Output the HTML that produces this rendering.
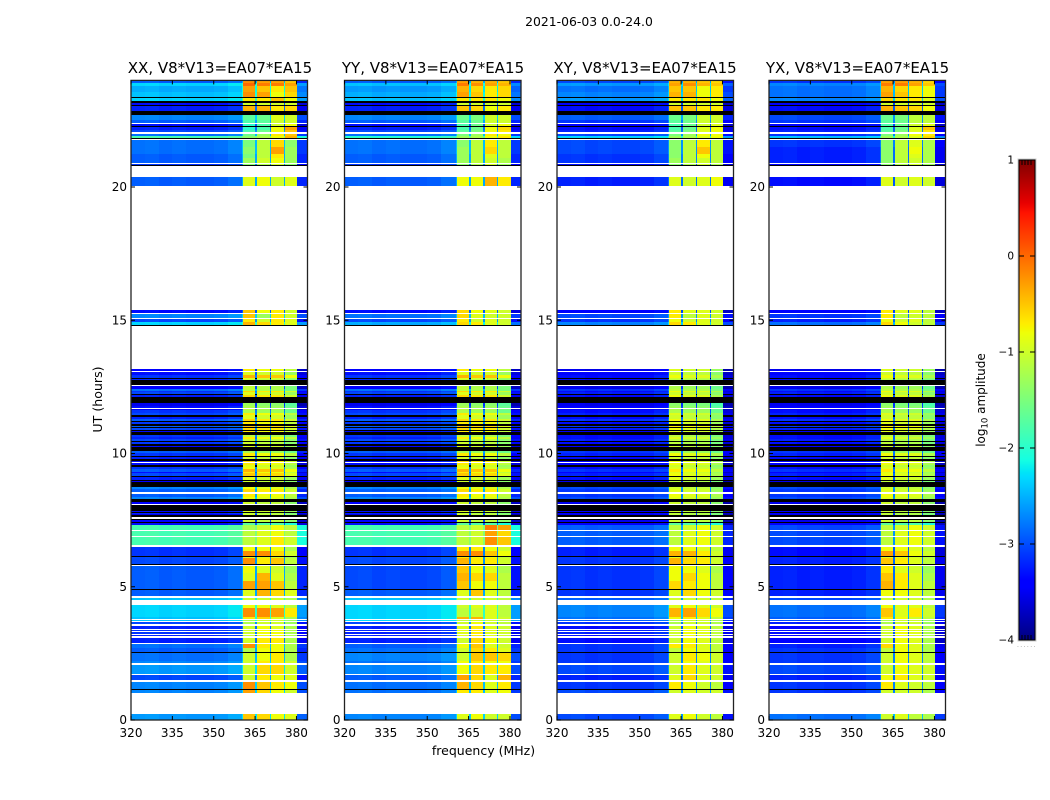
<!DOCTYPE html>
<html>
<head>
<meta charset="utf-8">
<title>2021-06-03 0.0-24.0</title>
<style>
html,body{margin:0;padding:0;background:#fff;}
svg{display:block;}
text{font-family:"DejaVu Sans","Liberation Sans",sans-serif;fill:#000;}
</style>
</head>
<body>
<svg id="figure" xmlns="http://www.w3.org/2000/svg" width="1050" height="800" viewBox="0 0 1050 800">
  <rect x="0" y="0" width="1050" height="800" fill="#fff"/>
  <text x="589" y="26" font-size="12.4" text-anchor="middle">2021-06-03 0.0-24.0</text>
  <text x="220" y="73" font-size="15" text-anchor="middle">XX, V8*V13=EA07*EA15</text>
  <text x="433" y="73" font-size="15" text-anchor="middle">YY, V8*V13=EA07*EA15</text>
  <text x="645" y="73" font-size="15" text-anchor="middle">XY, V8*V13=EA07*EA15</text>
  <text x="857.5" y="73" font-size="15" text-anchor="middle">YX, V8*V13=EA07*EA15</text>
  <text x="102" y="399.5" font-size="12.6" text-anchor="middle" transform="rotate(-90 102 399.5)">UT (hours)</text>
  <text x="483.5" y="755" font-size="12.5" text-anchor="middle">frequency (MHz)</text>
  <text x="985" y="400" font-size="12" text-anchor="middle" transform="rotate(-90 985 400)">log<tspan font-size="8.5" dy="2.5">10</tspan><tspan dy="-2.5"> amplitude</tspan></text>
  <text x="1017" y="647" font-size="6" letter-spacing="1.4" style="fill:#888">......</text>
  <g id="panels"></g>
  <g id="colorbar"></g>
</svg>
<script>
// ---- chart data: tick labels ----
const freqTicks = [320, 335, 350, 365, 380];
const utTicks = [0, 5, 10, 15, 20];
const colorbarTicks = [1, 0, -1, -2, -3, -4];

// ---- frequency structure (MHz): channels across each spectrum ----
const lowBinEdges = [320, 325, 330, 335, 340, 345, 350, 355, 360.4];
const lowBinOffset = [0.03, 0.05, 0, 0.03, 0, 0, 0.03, 0.12];
const subBandEdges = [[360.6, 365.1], [365.7, 370.4], [370.8, 375.3], [375.7, 380.2]];
const gapEdges = [[360.4, 360.6], [365.1, 365.7], [370.4, 370.8], [375.3, 375.7]];
const tailEdges = [380.2, 384];
const gapOffset = 0.4;
const tailOffset = -0.25;
const lowBias = -0.15;
const stripeSubOffsets = [-0.1, -0.2, -0.2, -0.5];

// ---- time structure (UT hours). Anything not listed is flagged (white) ----
const K = [-9, -9];
const lowerBands = [[0,.22],[1,1.13],[1.13,1.16],[1.16,1.43],[1.5,1.7],[1.74,2.08],[2.13,2.2],[2.23,2.5],[2.5,2.55],[2.55,2.7],[2.7,2.86],[2.9,3.08],[3.15,3.2],[3.24,3.3],[3.34,3.38],[3.4,3.51],[3.6,3.66],[3.72,3.74],[3.78,3.85],[3.85,4.2],[4.2,4.33],[4.51,4.58],[4.66,4.89],[4.89,4.93],[4.93,5.2],[5.2,5.5],[5.5,5.77],[5.82,5.85],[5.85,6.08],[6.08,6.14],[6.14,6.17],[6.17,6.33],[6.33,6.49],[6.57,6.86],[6.91,7.1],[7.14,7.33]];
const stripeBands = [[7.33,7.38],[7.38,7.43],[7.43,7.5],[7.5,7.55],[7.6,7.68],[7.68,7.73],[7.73,7.78],[7.78,7.82],[7.82,7.86],[7.86,8.05],
[8.11,8.19],[8.19,8.28],[8.28,8.36],[8.36,8.47],[8.54,8.66],[8.66,8.76],[8.76,8.92],[8.92,8.97],[8.97,9.02],[9.02,9.1],
[9.1,9.16],[9.16,9.25],[9.25,9.3],[9.3,9.42],[9.42,9.5],[9.5,9.55],[9.55,9.63],[9.67,9.73],[9.73,9.78],[9.78,9.86],
[9.86,9.92],[9.92,10.02],[10.02,10.11],[10.11,10.24],[10.24,10.3],[10.3,10.35],[10.35,10.43],[10.43,10.48],[10.48,10.55],[10.55,10.62],
[10.62,10.68],[10.68,10.8],[10.8,10.85],[10.85,10.9],[10.9,10.96],[10.96,11],[11,11.05],[11.05,11.1],[11.1,11.17],[11.17,11.22],
[11.22,11.3],[11.3,11.36],[11.36,11.44],[11.44,11.52],[11.52,11.62],[11.62,11.66],[11.7,11.77],[11.8,11.89],[11.89,12.11],[12.11,12.18],
[12.18,12.22],[12.22,12.3],[12.3,12.36],[12.36,12.43],[12.43,12.52],[12.57,12.74],[12.74,12.8],[12.8,12.85],[12.85,12.95],[12.95,13.05],
[13.09,13.18]];
const upperBands = [[14.8,14.84],[14.84,14.92],[14.95,15.05],[15.1,15.22],[15.29,15.39],[20.02,20.36],[20.78,20.82],[20.82,20.85],[20.9,21.1],[21.1,21.25],[21.25,21.5],[21.5,21.78],[21.8,21.84],[21.84,21.92],[21.92,22],[22.08,22.13],[22.13,22.27],[22.27,22.3],[22.3,22.35],[22.42,22.5],[22.53,22.72],[22.72,22.84],[22.84,23.03],[23.03,23.06],[23.06,23.16],[23.16,23.22],[23.22,23.33],[23.33,23.37],[23.37,23.55],[23.55,23.78],[23.78,23.91],[23.91,24]];

// ---- log10 amplitude per band: [below-band, subband1..4] or [below-band, all subbands] ----
const xxLower = [[-2.5,-.5,-.6,-.8,-.9],[-2.6,-.3,-.6,-.8,-1],K,[-2.6,-.2,-.5,-.7,-.8],[-2.9,-1,-.7,-.8,-.9],[-2.5,-1,-.6,-.6,-1],[-2.6,-1,-.7,-.7,-1],[-2.7,-1,-.8,-.7,-1.2],K,[-2.8,-1.2,-.8,-.8,-1.2],
[-2.7,-.2,-.7,-.8,-1.2],[-3.1,-1,-.7,-.7,-1.2],[-3.1,-1,-.8,-.8,-1.2],[-3,-1,-.8,-.8,-1.2],[-3,-1,-.8,-.8,-1.2],[-3.1,-1,-.8,-.9,-1.2],[-2.9,-1.2,-1,-1,-1.3],[-2.3,-1.2,-1,-1,-1.3],[-2.3,-.7,-.6,-.9,-1.2],[-2.2,-.2,-.2,-.3,-.7],
[-2.2,-.8,-.8,-.9,-1.1],[-2.3,-1,-1,-1,-1.2],[-2.8,-.9,-.4,-.6,-.9],K,[-2.8,-.3,-.3,-.5,-1.1],[-2.8,-.9,-.4,-.9,-1.2],[-2.8,-.8,-.9,-1,-1.3],K,[-2.9,-.2,-.7,-.5,-1.1],[-2.9,-.9,-.9,-1,-1.3],
K,[-3,-.2,-.2,-.6,-1],[-3,-.8,-.8,-.8,-1.2],[-1.7,-1.1,-.9,-.7,-1],[-1.7,-1.1,-.9,-.8,-1.1],[-1.7,-1.2,-1,-.8,-1.1]];
const yyLower = [[-2.6,-.9,-.8,-1,-1],[-2.7,-.7,-.7,-.9,-.8],K,[-2.7,-.4,-.6,-.9,-.7],[-2.8,-.3,-.6,-.9,-.4],[-2.6,-.8,-.6,-.7,-.7],[-2.7,-.8,-.7,-.8,-.8],[-2.6,-1,-.5,-.5,-.6],K,[-2.7,-1,-.6,-.7,-.9],
[-2.8,-.8,-.5,-.9,-1],[-3.1,-1,-.6,-.8,-1],[-3.1,-.9,-.7,-.9,-1],[-3.1,-.9,-.7,-.9,-1],[-3.1,-.9,-.7,-.9,-1],[-3.1,-.9,-.7,-.9,-1],[-2.9,-1,-.8,-1,-1.1],[-2.2,-1.1,-1,-1,-1.1],[-2.2,-.4,-.4,-.9,-1],[-2.2,-1.1,-1,-.9,-1.1],
[-2.2,-1,-.9,-.9,-1.1],[-2.3,-1,-1,-1,-1.1],[-2.8,-.9,-.5,-.9,-1.1],K,[-2.9,-.5,-.8,-.8,-1.1],[-2.9,-.4,-.6,-.6,-1.1],[-2.9,-.5,-.8,-.9,-1.2],K,[-2.9,-.4,-.7,-.7,-1],[-2.9,-.7,-.8,-.8,-1.1],
K,[-3,-.2,-.2,-.5,-.8],[-3,-.7,-.7,-.8,-1],[-1.7,-1.1,-1,-.2,-.5],[-1.7,-1.1,-1,-.3,-.6],[-1.7,-1.1,-1,-.1,-.3]];
const xyLower = [[-2.9,-.9,-.8,-1,-1.1],[-2.9,-1,-.9,-1,-1],K,[-3,-.7,-.8,-1,-1.1],[-3.1,-.9,-.6,-.9,-1],[-2.9,-1,-.7,-.9,-1],[-3,-1,-.8,-.9,-1],[-3,-1,-.7,-.8,-1],K,[-3,-1.1,-.8,-.9,-1.1],
[-3,-.7,-.7,-.9,-1.1],[-3.2,-1,-.8,-.9,-1.1],[-3.2,-1,-.8,-.9,-1.1],[-3.1,-1,-.8,-.9,-1.1],[-3.1,-1,-.8,-.9,-1.1],[-3.2,-1,-.8,-.9,-1.1],[-3,-1.2,-1,-1,-1.2],[-2.8,-1.2,-1,-1,-1.2],[-2.7,-.8,-.7,-.9,-1.1],[-2.6,-.4,-.3,-.6,-.8],
[-2.6,-.9,-.8,-.9,-1],[-2.8,-1,-1,-1,-1.1],[-3,-.9,-.6,-.8,-1],K,[-3,-.6,-.7,-.8,-1.1],[-3,-.8,-.6,-.8,-1.1],[-3,-.8,-.8,-.9,-1.2],K,[-3,-.4,-.6,-.7,-1],[-3,-.9,-.8,-.9,-1.1],
K,[-3.1,-.4,-.4,-.7,-1],[-3.1,-.8,-.8,-.9,-1.1],[-2.8,-1.1,-.9,-.8,-1],[-2.8,-1.1,-.9,-.8,-1],[-2.8,-1.1,-1,-.8,-1]];
const yxLower = [[-2.7,-1,-.9,-1.1,-1.2],[-3,-1,-1,-1,-1.2],K,[-3,-.7,-.9,-1,-1.1],[-3.1,-.8,-.7,-.9,-1],[-2.9,-1,-.8,-.9,-1],[-3,-1,-.8,-.9,-1.1],[-3,-1,-.8,-.9,-1.1],K,[-3,-1.1,-.8,-.9,-1.2],
[-3.1,-.6,-.8,-.9,-1.2],[-3.3,-1,-.8,-.9,-1.2],[-3.3,-1,-.8,-.9,-1.2],[-3.2,-1,-.8,-.9,-1.2],[-3.2,-1,-.8,-.9,-1.2],[-3.3,-1,-.8,-.9,-1.2],[-3.1,-1.2,-1,-1,-1.3],[-2.9,-1.2,-1,-1,-1.3],[-2.8,-.7,-.8,-1,-1.1],[-2.7,-.5,-.9,-.7,-1],
[-2.7,-.8,-.9,-.9,-1.1],[-2.9,-1,-1,-1,-1.2],[-3.1,-.8,-.8,-.9,-1.1],K,[-3.1,-.4,-.7,-.9,-1.1],[-3.1,-.5,-.7,-.9,-1.2],[-3.1,-.7,-.9,-1,-1.3],K,[-3.1,-.5,-.7,-.9,-1.1],[-3.1,-.9,-.9,-1,-1.2],
K,[-3.2,-.3,-.5,-.8,-1],[-3.2,-.8,-.8,-.9,-1.1],[-2.9,-1.1,-.9,-.8,-1],[-2.9,-1.1,-.9,-.8,-1],[-2.9,-1.1,-1,-.8,-1]];

const coStripes = [[-3.2,-1.6],K,[-3.3,-.9],K,K,[-3.4,-.9],[-3.1,-1],K,[-3.2,-.8],K,
[-3.3,-.9],K,[-2.6,-.7],[-2.8,-.6],[-2.8,-.5],[-2.6,-.7],K,[-3.3,-.9],K,[-3.1,-.8],
K,[-2.9,-.4],[-3.2,-.6],[-2.8,-.3],[-3,-.7],[-9,-.8],[-3.2,-.6],[-3.2,-.5],K,[-3.1,-.9],
K,[-3,-.6],[-2.8,-1.1],K,[-3.2,-.8],K,[-3,-.9],K,[-2.9,-.9],[-3.1,-.6],
[-3,-1],K,[-3.2,-.6],K,[-2.9,-.5],K,[-2.8,-.4],K,[-3,-.6],K,
[-2.8,-.5],[-3.1,-.8],[-9,-.8],[-2.9,-.6],[-3,-1.1],[-3.3,-1],[-3.2,-1.1],[-3.4,-1.2],K,[-3.1,-.5],
[-9,-.8],[-2.9,-.8],[-3,-.5],[-2.7,-1],[-3.3,-1],K,[-3.1,-.9],[-9,-.8],[-3,-.3],[-3.2,-.8],
[-3.3,-.6]];
const crossStripes = [[-3.3,-1.6],K,[-3.4,-.9],K,K,[-3.4,-1],[-3.3,-1],K,[-3.3,-.9],K,
[-3.4,-.9],K,[-2.9,-.8],[-3,-.7],[-3,-.8],[-2.9,-.9],K,[-3.4,-1],K,[-3.2,-.8],
K,[-3.1,-.7],[-3.3,-.8],[-3,-.6],[-3.2,-.8],[-9,-.9],[-3.3,-.7],[-3.3,-.7],K,[-3.2,-.9],
K,[-3.1,-.7],[-3,-1.1],K,[-3.3,-.9],K,[-3.2,-1],K,[-3.1,-1],[-3.2,-.8],
[-3.2,-1],K,[-3.3,-.8],K,[-3.1,-.7],K,[-3,-.6],K,[-3.2,-.8],K,
[-3,-.7],[-3.2,-.9],[-9,-.9],[-3.1,-.8],[-3.2,-1.1],[-3.3,-1.1],[-3.3,-1.2],[-3.4,-1.3],K,[-3.2,-.7],
[-9,-.9],[-3.1,-.9],[-3.2,-.7],[-3,-1],[-3.4,-1.1],K,[-3.2,-1],[-9,-.9],[-3.2,-.7],[-3.3,-.9],
[-3.4,-.8]];

const xxUpper = [K,[-2.2,-.4,-.6,-.7,-.9],[-2.9,-.7,-1,-.7,-.9],[-2.6,-.5,-1.3,-.7,-1],[-3.2,-.5,-.8,-.7,-1],[-2.8,-.9,-.8,-1,-.9],K,[-3,-1.4,-1.2,-1,-1.4],[-2.8,-1.3,-1,-.8,-1.3],[-2.8,-1.5,-1.1,-.7,-1.3],
[-2.7,-1.4,-1.1,-.3,-1.3],[-2.7,-1.5,-1.1,-.6,-1.4],K,[-1.7,-1.4,-1.2,-.8,-.4],[-2.7,-1.6,-1.3,-.7,-.5],[-2.9,-1.8,-1.6,-.8,-.5],[-3.1,-2,-1.8,-.8,-.3],K,[-3.2,-2,-1.8,-1,-.8],[-2.8,-1.8,-1.7,-1,-1],
[-2.6,-1.7,-1.6,-.9,-1],K,[-3.1,-.4,-.4,-.7,-.6],K,[-3.2,-1,-1,-1,-1],K,[-2.2,-.7,-.7,-.5,-.8],K,[-2.3,-.2,-.3,-.8,-.6],[-2.4,-.3,-.5,-.7,-.5],
[-2.2,0,-.1,-.1,-.3],[-2.8,-.2,-.3,-.3,-.5]];
const yyUpper = [K,[-2.4,-.6,-.7,-.9,-1],[-2.9,-.7,-1,-.9,-1],[-2.7,-.6,-.9,-1,-1],[-3.2,-.6,-.8,-.9,-1],[-2.8,-.8,-.8,-.4,-.7],K,[-3,-1.4,-1.2,-1,-1.3],[-2.8,-1.3,-1.1,-1,-1.2],[-2.8,-1.3,-1.1,-.9,-1.1],
[-2.7,-1.3,-1.1,-.6,-1.1],[-2.7,-1.4,-1.1,-.7,-1.1],K,[-1.9,-1.3,-1.2,-.8,-.7],[-2.7,-1.5,-1.3,-.7,-.8],[-2.9,-1.7,-1.5,-.8,-.7],[-3.1,-1.8,-1.6,-.8,-.6],K,[-3.2,-1.8,-1.6,-1,-.8],[-2.8,-1.7,-1.6,-1,-1],
[-2.6,-1.6,-1.5,-1,-1],K,[-3.1,-.5,-.6,-.8,-.7],K,[-3.2,-1,-1,-1,-1],K,[-2.3,-.7,-.7,-.7,-.8],K,[-2.4,-.3,-.5,-.7,-.6],[-2.5,-.4,-.6,-.7,-.6],
[-2.3,-.1,-.2,-.3,-.4],[-2.8,-.3,-.4,-.4,-.5]];
const xyUpper = [K,[-2.6,-.6,-.7,-.9,-1],[-3,-.8,-1,-.9,-1],[-2.9,-.7,-1.1,-.9,-1],[-3.3,-.7,-.9,-.9,-1],[-3.1,-.9,-1,-.9,-.8],K,[-3.2,-1.4,-1.2,-1,-1.2],[-3,-1.3,-1.1,-1,-1.1],[-3,-1.4,-1.1,-.8,-1.1],
[-2.9,-1.4,-1.1,-.5,-1.1],[-2.9,-1.4,-1.1,-.7,-1.1],K,[-2.2,-1.3,-1.2,-.9,-.8],[-2.9,-1.5,-1.3,-.8,-.8],[-3.1,-1.7,-1.5,-.9,-.8],[-3.2,-1.8,-1.6,-.9,-.8],K,[-3.3,-1.8,-1.6,-1,-.9],[-3,-1.7,-1.6,-1,-1],
[-2.8,-1.6,-1.5,-1,-1],K,[-3.2,-.5,-.5,-.7,-.7],K,[-3.3,-1,-1,-1,-1],K,[-2.5,-.7,-.7,-.7,-.8],K,[-2.6,-.4,-.4,-.8,-.7],[-2.7,-.5,-.5,-.8,-.7],
[-2.5,-.3,-.2,-.4,-.5],[-2.9,-.4,-.4,-.5,-.6]];
const yxUpper = [K,[-2.7,-.6,-.8,-1,-1.1],[-3.1,-.8,-1,-.9,-1.1],[-3,-.7,-1.1,-1,-1.1],[-3.3,-.7,-.9,-.9,-1.1],[-3.2,-.9,-1,-.9,-1],K,[-3.3,-1.4,-1.2,-1,-1.3],[-3.1,-1.4,-1.1,-1,-1.2],[-3.1,-1.4,-1.1,-.9,-1.2],
[-3.1,-1.4,-1.1,-.8,-1.2],[-3,-1.4,-1.1,-.9,-1.2],K,[-2.3,-1.3,-1.2,-.9,-.6],[-3,-1.5,-1.3,-.8,-.7],[-3.1,-1.7,-1.5,-.9,-.7],[-3.2,-1.8,-1.6,-.9,-.5],K,[-3.3,-1.8,-1.6,-1,-.9],[-3,-1.7,-1.6,-1.1,-1.1],
[-2.9,-1.6,-1.5,-1.1,-1.1],K,[-3.2,-.4,-.5,-.6,-.8],K,[-3.3,-1,-1,-1,-1],K,[-2.6,-.6,-.7,-.7,-.9],K,[-2.7,-.3,-.5,-.7,-.8],[-2.7,-.4,-.6,-.7,-.8],
[-2.6,-.1,-.1,-.3,-.5],[-3,-.3,-.3,-.4,-.6]];

// ---- assembled series, one per polarisation ----
const allBands = lowerBands.concat(stripeBands, upperBands);
const xxRows = xxLower.concat(coStripes, xxUpper);
const yyRows = yyLower.concat(coStripes, yyUpper);
const xyRows = xyLower.concat(crossStripes, xyUpper);
const yxRows = yxLower.concat(crossStripes, yxUpper);
const panelKeys = ['xx', 'yy', 'xy', 'yx'];
const panelSeries = [xxRows, yyRows, xyRows, yxRows];

// ---- layout ----
const NS = 'http://www.w3.org/2000/svg';
const panelLeft = [131, 344.5, 557, 769];
const plotWidth = 176.5;
const plotBottom = 720;
const plotTop = 80.4;
const xMin = 320, xMax = 384, yMin = 0, yMax = 24;
const cbLeft = 1019, cbRight = 1035, cbTop = 160, cbBottom = 640, vMin = -4, vMax = 1;

function xScale(i, f) { return panelLeft[i] + (f - xMin) / (xMax - xMin) * plotWidth; }
function yScale(h) { return plotBottom - (h - yMin) / (yMax - yMin) * (plotBottom - plotTop); }
function cbScale(v) { return cbBottom - (v - vMin) / (vMax - vMin) * (cbBottom - cbTop); }

function interp(stops, t) {
  for (let i = 1; i < stops.length; i++) {
    if (t <= stops[i][0]) {
      const a = stops[i - 1], b = stops[i];
      return a[1] + (b[1] - a[1]) * (t - a[0]) / (b[0] - a[0]);
    }
  }
  return stops[stops.length - 1][1];
}
const jetR = [[0,0],[.35,0],[.66,1],[.89,1],[1,.5]];
const jetG = [[0,0],[.125,0],[.375,1],[.64,1],[.91,0],[1,0]];
const jetB = [[0,.5],[.11,1],[.34,1],[.65,0],[1,0]];
function colorOf(v) {
  if (v <= -8) return '#000';
  const t = Math.max(0, Math.min(1, (v - vMin) / (vMax - vMin)));
  const c = a => Math.round(255 * interp(a, t));
  return 'rgb(' + c(jetR) + ',' + c(jetG) + ',' + c(jetB) + ')';
}

function add(parent, tag, attrs, txt) {
  const el = document.createElementNS(NS, tag);
  for (const k in attrs) el.setAttribute(k, attrs[k]);
  if (txt !== undefined) el.textContent = txt;
  parent.appendChild(el);
  return el;
}
function minus(v) { return String(v).replace('-', '\u2212'); }

function drawCell(g, i, f0, f1, row, v) {
  const x0 = Math.round(xScale(i, f0)), x1 = Math.round(xScale(i, f1));
  const y0 = Math.round(yScale(row[1])), y1 = Math.round(yScale(row[0]));
  const cell = add(g, 'rect', { x: x0, y: y0, width: Math.max(1, x1 - x0), height: Math.max(1, y1 - y0), fill: colorOf(v), 'shape-rendering': 'crispEdges' });
  
  
}

const panelsRoot = document.getElementById('panels');
panelKeys.forEach(function (key, i) {
  const g = add(panelsRoot, 'g', {});
  
  
  const rows = panelSeries[i];
  allBands.forEach(function (band, b) {
    const r = rows[b];
    const low = r[0] < -8 ? r[0] : r[0] + lowBias;
    for (let k = 0; k < lowBinOffset.length; k++) {
      drawCell(g, i, lowBinEdges[k], lowBinEdges[k + 1], band, low < -8 ? low : low + lowBinOffset[k]);
    }
    subBandEdges.forEach(function (s, k) {
      let v;
      if (r.length > 2) v = r[1 + k];
      else v = r[1] < -8 ? r[1] : r[1] + stripeSubOffsets[k];
      drawCell(g, i, s[0], s[1], band, v);
    });
    gapEdges.forEach(function (s) {
      drawCell(g, i, s[0], s[1], band, low < -8 ? low : low + gapOffset);
    });
    drawCell(g, i, tailEdges[0], tailEdges[1], band, low < -8 ? low : low + tailOffset);
  });

  const left = panelLeft[i], right = left + plotWidth;
  const spine = add(g, 'rect', { x: left, y: plotTop, width: plotWidth, height: plotBottom - plotTop, fill: 'none', stroke: '#222', 'stroke-width': 1.3 });
  
  

  freqTicks.forEach(function (f) {
    const x = xScale(i, f);
    const t1 = add(g, 'line', { x1: x, x2: x, y1: plotBottom, y2: plotBottom - 4, stroke: '#000', 'stroke-width': 1 });
    
    
    const t2 = add(g, 'line', { x1: x, x2: x, y1: plotTop, y2: plotTop + 4, stroke: '#000', 'stroke-width': 1 });
    
    
    const lab = add(g, 'text', { x: x, y: 737, 'font-size': 12, 'text-anchor': 'middle' }, String(f));
    
    
  });
  utTicks.forEach(function (h) {
    const y = yScale(h);
    const t1 = add(g, 'line', { x1: left, x2: left + 4, y1: y, y2: y, stroke: '#000', 'stroke-width': 1 });
    
    
    const t2 = add(g, 'line', { x1: right, x2: right - 4, y1: y, y2: y, stroke: '#000', 'stroke-width': 1 });
    
    
    const lab = add(g, 'text', { x: left - 4, y: y + 4, 'font-size': 12, 'text-anchor': 'end' }, String(h));
    
    
  });
});

// ---- colorbar ----
const cb = document.getElementById('colorbar');
for (let y = cbTop; y < cbBottom; y++) {
  const v = vMax - (y + 0.5 - cbTop) / (cbBottom - cbTop) * (vMax - vMin);
  const s = add(cb, 'rect', { x: cbLeft, y: y, width: cbRight - cbLeft, height: 1, fill: colorOf(v), 'shape-rendering': 'crispEdges' });
  
  
}
const cbHalo = add(cb, 'rect', { x: cbLeft - 1, y: cbTop - 1, width: cbRight - cbLeft + 2, height: cbBottom - cbTop + 2, fill: 'none', stroke: '#ccc', 'stroke-width': 1 });


const cbFrame = add(cb, 'rect', { x: cbLeft, y: cbTop, width: cbRight - cbLeft, height: cbBottom - cbTop, fill: 'none', stroke: '#000', 'stroke-width': 1 });


colorbarTicks.forEach(function (v) {
  const y = cbScale(v);
  const t1 = add(cb, 'line', { x1: cbLeft, x2: cbLeft + 5, y1: y, y2: y, stroke: '#000', 'stroke-width': 1 });
  
  
  const t2 = add(cb, 'line', { x1: cbRight, x2: cbRight - 5, y1: y, y2: y, stroke: '#000', 'stroke-width': 1 });
  
  
  const lab = add(cb, 'text', { x: 1014, y: y + 3.5, 'font-size': 10.5, 'text-anchor': 'end' }, minus(v));
  
  
});
[cbLeft + 3, cbLeft + 6, cbLeft + 9, cbLeft + 12].forEach(function (x) {
  const a = add(cb, 'line', { x1: x, x2: x, y1: cbTop, y2: cbTop + 5, stroke: '#000', 'stroke-width': 1 });
  
  
  const c = add(cb, 'line', { x1: x, x2: x, y1: cbBottom, y2: cbBottom - 5, stroke: '#000', 'stroke-width': 1 });
  
  
});
</script>
</body>
</html>
